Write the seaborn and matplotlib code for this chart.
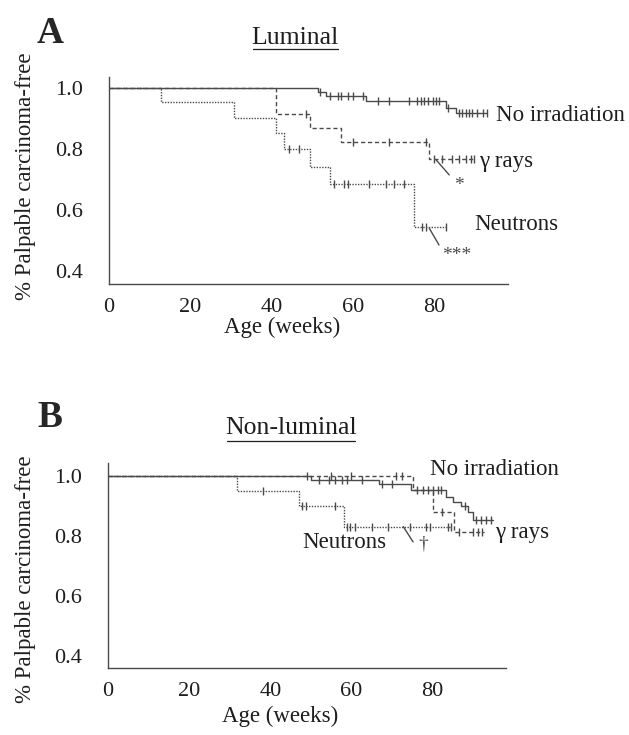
import numpy as np
import pandas as pd
import seaborn as sns
import matplotlib.pyplot as plt

# step points (time, survival) and censor times
lum_none_t = [0, 51.3, 53.3, 63.2, 82.8, 85.2, 93.0]
lum_none_s = [1.0, 0.987, 0.973, 0.956, 0.936, 0.918, 0.918]
lum_none_c = [51.8, 54.2, 56.2, 57.0, 58.7, 59.9, 62.3, 66.0, 68.9, 73.8, 75.8, 76.6,
              77.5, 78.3, 79.5, 80.3, 81.1, 83.2, 86.0, 86.8, 87.7, 88.5, 89.3, 90.5,
              91.8, 93.0]

lum_gam_t = [0, 41.1, 49.3, 57.0, 78.7, 89.7]
lum_gam_s = [1.0, 0.914, 0.868, 0.824, 0.766, 0.766]
lum_gam_c = [48.3, 60.0, 68.9, 77.9, 79.9, 81.9, 84.4, 86.0, 87.7, 88.9, 89.7]

lum_neu_t = [0, 12.7, 30.6, 41.1, 43.1, 49.3, 54.2, 75.0, 82.7]
lum_neu_s = [1.0, 0.953, 0.901, 0.854, 0.80, 0.742, 0.684, 0.545, 0.545]
lum_neu_c = [44.2, 46.8, 55.4, 57.8, 58.7, 63.9, 68.0, 70.0, 72.5, 77.0, 77.8, 82.7]

non_none_t = [0, 50.0, 66.7, 74.8, 83.4, 85.0, 87.1, 88.8, 90.0, 94.9]
non_none_s = [1.0, 0.987, 0.973, 0.953, 0.931, 0.914, 0.898, 0.881, 0.853, 0.853]
non_none_c = [49.1, 52.0, 54.4, 56.0, 57.7, 58.9, 62.6, 67.5, 69.9, 76.1, 77.7, 78.9,
              80.1, 81.4, 82.2, 87.9, 90.8, 92.0, 93.2, 94.4]

non_gam_t = [0, 75.2, 80.1, 85.3, 92.8]
non_gam_s = [1.0, 0.953, 0.881, 0.814, 0.814]
non_gam_c = [55.0, 60.0, 71.0, 72.5, 82.3, 86.5, 90.0, 91.2, 92.3]

non_neu_t = [0, 31.9, 47.1, 58.3, 84.6]
non_neu_s = [1.0, 0.951, 0.898, 0.831, 0.831]
non_neu_c = [38.1, 47.9, 48.7, 56.0, 58.9, 59.7, 60.9, 65.0, 69.1, 74.4, 78.5, 79.3,
             83.8, 84.6]

x_ticks = [0, 20, 40, 60, 80]
y_ticks = [0.4, 0.6, 0.8, 1.0]

sns.set_style('white')
plt.rcParams['font.family'] = ['Liberation Serif', 'DejaVu Serif']
COL = '#4a4a4a'
TXT = '#1e1e1e'


def step_value(t, s, x):
    idx = np.searchsorted(t, x, side='right') - 1
    return np.array(s)[idx]


def draw_curve(ax, t, s, c, ls):
    df = pd.DataFrame({'t': t, 's': s})
    sns.lineplot(data=df, x='t', y='s', ax=ax, color=COL, lw=1.0, linestyle=ls,
                 drawstyle='steps-post', estimator=None, sort=False)
    cdf = pd.DataFrame({'t': c, 's': step_value(t, s, c)})
    sns.scatterplot(data=cdf, x='t', y='s', ax=ax, marker='|', s=40, color=COL,
                    linewidth=1.0, zorder=3)


def style_axes(ax, ylim, ylab_y, xlab_y):
    ax.set_xlim(0, 98)
    ax.set_ylim(*ylim)
    ax.set_xticks(x_ticks)
    ax.set_yticks(y_ticks)
    ax.set_yticklabels([f'{v:.1f}' for v in y_ticks])
    for side in ['top', 'right']:
        ax.spines[side].set_visible(False)
    for side in ['left', 'bottom']:
        ax.spines[side].set_color(COL)
        ax.spines[side].set_linewidth(1.0)
    ax.tick_params(axis='x', direction='in', length=5, color=COL, labelsize=16,
                   labelcolor=TXT, pad=10)
    ax.tick_params(axis='y', direction='out', length=5, color=COL, labelsize=16,
                   labelcolor=TXT, pad=14)
    ax.set_xlabel('Age (weeks)', fontsize=16.5, color=TXT)
    ax.set_ylabel('% Palpable carcinoma-free', fontsize=16.5, color=TXT)
    ax.xaxis.set_label_coords(0.434, xlab_y)
    ax.yaxis.set_label_coords(-0.182, ylab_y)


fig = plt.figure(figsize=(6.29, 7.35), dpi=100)
axA = fig.add_axes([0.1733, 0.6136, 0.634, 0.2816])
axB = fig.add_axes([0.1717, 0.0912, 0.632, 0.2789])

draw_curve(axA, lum_none_t, lum_none_s, lum_none_c, '-')
draw_curve(axA, lum_gam_t, lum_gam_s, lum_gam_c, (0, (3, 2)))
draw_curve(axA, lum_neu_t, lum_neu_s, lum_neu_c, (0, (1, 1)))
style_axes(axA, (0.357, 1.036), 0.52, -0.16)

draw_curve(axB, non_none_t, non_none_s, non_none_c, '-')
draw_curve(axB, non_gam_t, non_gam_s, non_gam_c, (0, (3, 2)))
draw_curve(axB, non_neu_t, non_neu_s, non_neu_c, (0, (1, 1)))
style_axes(axB, (0.36, 1.043), 0.434, -0.185)

lab = dict(fontsize=16.5, color=TXT, va='center', clip_on=False)
axA.text(95.1, 0.911, 'No irradiation', ha='left', **lab)
axA.text(90.9, 0.758, 'γ rays', ha='left', **lab)
axA.text(89.7, 0.551, 'Neutrons', ha='left', **lab)
axA.plot([80.4, 83.6], [0.764, 0.715], color=COL, lw=1.0)
axA.text(86.0, 0.68, '*', ha='center', fontsize=14, color=COL, va='center')
axA.plot([78.7, 81.1], [0.54, 0.485], color=COL, lw=1.0)
axA.text(85.5, 0.45, '***', ha='center', fontsize=14, color=COL, va='center')

axB.text(79.4, 1.02, 'No irradiation', ha='left', **lab)
axB.text(95.3, 0.813, 'γ rays', ha='left', **lab)
axB.text(68.6, 0.777, 'Neutrons', ha='right', **lab)
axB.plot([72.8, 75.2], [0.831, 0.78], color=COL, lw=1.0)
axB.text(77.7, 0.772, '†', ha='center', fontsize=14, color=COL, va='center')

fig.text(0.469, 0.948, 'Luminal', ha='center', va='center', fontsize=18.5, color=TXT)
fig.add_artist(plt.Line2D([0.402, 0.537], [0.934, 0.934], color=TXT, lw=0.9))
fig.text(0.463, 0.418, 'Non-luminal', ha='center', va='center', fontsize=18.5, color=TXT)
fig.add_artist(plt.Line2D([0.361, 0.564], [0.400, 0.400], color=TXT, lw=0.9))

fig.text(0.08, 0.955, 'A', fontsize=27, fontweight='bold', ha='center', va='center')
fig.text(0.08, 0.432, 'B', fontsize=27, fontweight='bold', ha='center', va='center')

fig.savefig('out.png', dpi=100)
